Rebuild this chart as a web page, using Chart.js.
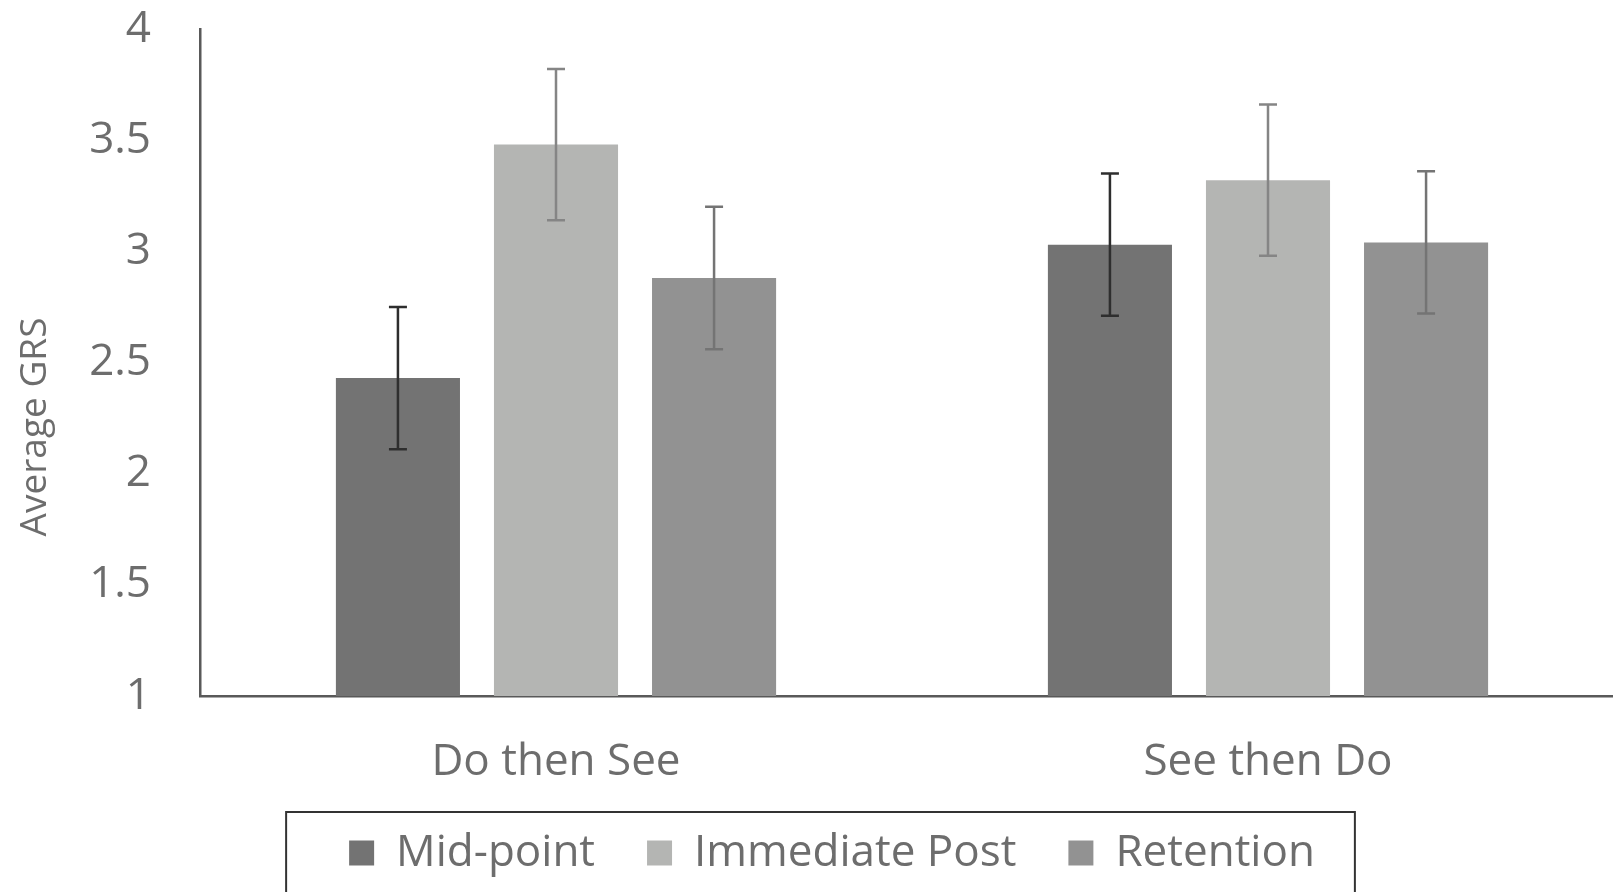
<!DOCTYPE html>
<html>
<head>
<meta charset="utf-8">
<title>Average GRS</title>
<script src="https://cdn.jsdelivr.net/npm/chart.js@4/dist/chart.umd.min.js"></script>
<style>
  body { margin: 0; background: #fff; overflow: hidden; }
  #wrap { width: 1640px; height: 925px; }
</style>
</head>
<body>
<div id="wrap"><canvas id="grsChart" width="1640" height="925"></canvas></div>
<script>
// data
var groups = ["Do then See", "See then Do"];
var seriesNames = ["Mid-point", "Immediate Post", "Retention"];
var midPoint = [2.43, 3.03];
var immediatePost = [3.48, 3.32];
var retention = [2.88, 3.04];
var midPointErr = [0.32, 0.32];
var immediatePostErr = [0.34, 0.34];
var retentionErr = [0.32, 0.32];
var yTicks = [1, 1.5, 2, 2.5, 3, 3.5, 4];

var barColors = ["#737373", "#b4b5b3", "#929292"];
var errColors = ["#2e2e2e", "#858585", "#747474"];
var textGray = "#6d6d6d";

//error bars drawn after bars, using the y scale
var errorBarPlugin = {
  id: "errorBars",
  afterDatasetsDraw: function(chart){
    var ctx = chart.ctx;
    var yScale = chart.scales.y;
    chart.data.datasets.forEach(function(ds, di){
      var meta = chart.getDatasetMeta(di);
      meta.data.forEach(function(bar, i){
        var v = ds.data[i];
        var e = ds.errors[i];
        var yTop = yScale.getPixelForValue(v + e);
        var yBot = yScale.getPixelForValue(v - e);
        ctx.save();
        ctx.strokeStyle = errColors[di];
        ctx.lineWidth = 2.5;
        ctx.beginPath();
        ctx.moveTo(bar.x, yTop); ctx.lineTo(bar.x, yBot);
        ctx.moveTo(bar.x - 9, yTop); ctx.lineTo(bar.x + 9, yTop);
        ctx.moveTo(bar.x - 9, yBot); ctx.lineTo(bar.x + 9, yBot);
        ctx.stroke();
        ctx.restore();
      });
    });
  }
};

// frame round the legend + rotated y title
var extrasPlugin = {
  id: "extras",
  afterDraw: function(chart){
    var ctx = chart.ctx;
    var boxes = chart.legend.legendHitBoxes;
    if(boxes && boxes.length){
      var first = boxes[0];
      var last = boxes[boxes.length - 1];
      var l = first.left - 63;
      var r = last.left + last.width + 40;
      ctx.save();
      ctx.strokeStyle = "#333";
      ctx.lineWidth = 2;
      ctx.strokeRect(l, first.top - 19, r - l, 200);
      ctx.restore();
    }
    ctx.save();
    ctx.translate(35, 427);
    ctx.rotate(-Math.PI / 2);
    ctx.font = "37px 'Open Sans'";
    ctx.fillStyle = textGray;
    ctx.textAlign = "center";
    ctx.textBaseline = "middle";
    ctx.fillText("Average GRS", 0, 0);
    ctx.restore();
  }
};

var ctxB = document.getElementById("grsChart").getContext("2d");
var grsChart = new Chart(ctxB, {
  type: "bar",
  data: {
    labels: groups,
    datasets: [
      { label: seriesNames[0], data: midPoint, errors: midPointErr, backgroundColor: barColors[0] },
      { label: seriesNames[1], data: immediatePost, errors: immediatePostErr, backgroundColor: barColors[1] },
      { label: seriesNames[2], data: retention, errors: retentionErr, backgroundColor: barColors[2] }
    ]
  },
  options: {
    responsive: false,
    animation: false,
    categoryPercentage: 0.666,
    barPercentage: 0.785,
    layout: { padding: { left: 40, right: 16, top: 0, bottom: 40 } },
    plugins: {
      tooltip: { enabled: false },
      legend: {
        position: "bottom",
        labels: {
          boxWidth: 25,
          boxHeight: 25,
          padding: 52,
          color: textGray,
          font: { family: "'Open Sans'", size: 44 }
        }
      }
    },
    scales: {
      x: {
        grid: { display: false, drawTicks: false },
        border: { display: true, color: "#595959", width: 2.5 },
        ticks: { padding: 40, color: textGray, font: { family: "'Open Sans'", size: 44 } },
        afterFit: function(scale){
          scale.height = 83;
          scale.paddingLeft = 0;
          scale.paddingRight = 0;
        }
      },
      y: {
        min: yTicks[0],
        max: yTicks[yTicks.length - 1],
        grid: { display: false, drawTicks: false },
        border: { display: true, color: "#595959", width: 2.5 },
        afterBuildTicks: function(scale){
          scale.ticks = yTicks.map(function(v){ return { value: v }; });
        },
        ticks: {
          padding: 49,
          color: textGray,
          font: { family: "'Open Sans'", size: 44 },
          callback: function(v){ return String(v); }
        },
        afterFit: function(scale){
          scale.width = 160;
          scale.paddingTop = 29;
          scale.paddingBottom = 0;
        }
      }
    }
  },
  plugins: [errorBarPlugin, extrasPlugin]
});
</script>
</body>
</html>
